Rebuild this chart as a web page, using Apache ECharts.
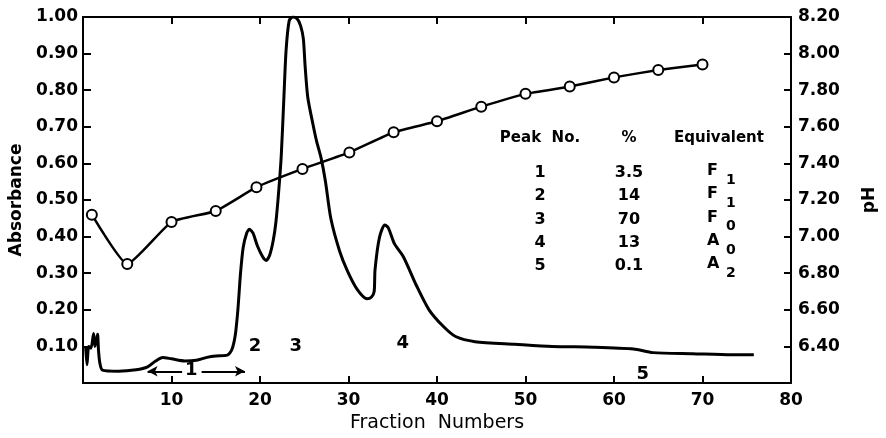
<!DOCTYPE html>
<html>
<head>
<meta charset="utf-8">
<script src="https://cdn.jsdelivr.net/npm/echarts@6/dist/echarts.min.js"></script>
<style>
  html, body { margin: 0; padding: 0; background: #fff; }
  #chart { width: 886px; height: 438px; }
</style>
</head>
<body>
<div id="chart"></div>
<script>
// Absorbance elution profile: [fraction number, absorbance]
const absorbanceProfile = [
  [0.3, 0.10], [0.45, 0.05], [0.65, 0.10], [0.9, 0.095], [1.2, 0.135], [1.35, 0.10],
  [1.55, 0.12], [1.65, 0.133], [1.75, 0.09], [1.9, 0.055], [2.2, 0.035], [4, 0.032],
  [6, 0.036], [7.3, 0.044], [8.2, 0.06], [9, 0.07], [10, 0.066], [11.5, 0.06],
  [12.8, 0.062], [14, 0.07], [15, 0.074], [16.3, 0.076], [16.8, 0.09], [17.2, 0.13],
  [17.5, 0.2], [17.8, 0.3], [18.1, 0.37], [18.5, 0.41], [18.8, 0.42], [19.2, 0.41],
  [19.7, 0.375], [20.3, 0.345], [20.7, 0.335], [21.1, 0.35], [21.5, 0.39], [21.8, 0.44],
  [22.1, 0.52], [22.4, 0.62], [22.7, 0.78], [22.95, 0.91], [23.3, 0.99], [23.7, 1.0],
  [24.2, 0.995], [24.6, 0.975], [24.9, 0.94], [25.1, 0.865], [25.4, 0.78], [26.0, 0.705],
  [26.4, 0.66], [26.9, 0.615], [27.4, 0.55], [28.0, 0.45], [29.0, 0.36], [29.9, 0.305],
  [31.0, 0.255], [32.1, 0.23], [32.6, 0.235], [32.9, 0.25], [33.0, 0.31], [33.5, 0.398],
  [34.1, 0.432], [34.5, 0.424], [35.2, 0.38], [36.2, 0.345], [37.7, 0.265], [39.1, 0.20],
  [40.7, 0.155], [42.1, 0.127], [44.3, 0.113], [48.8, 0.106], [53, 0.10], [57.7, 0.098],
  [62.2, 0.093], [64.4, 0.083], [68.9, 0.08], [73.3, 0.077], [75.8, 0.077]
];

// pH of collected fractions
const phFractions = [1.0, 5, 10, 15, 19.6, 24.8, 30.1, 35.1, 40, 45, 50, 55, 60, 65, 70];
const phValues    = [7.12, 6.85, 7.08, 7.14, 7.27, 7.37, 7.46, 7.57, 7.63, 7.71, 7.78, 7.82, 7.87, 7.91, 7.94];

// Peak numbers written under the curve: [fraction, absorbance, text]
const peakMarks = [[19.5, 0.10, '2'], [24.1, 0.10, '3'], [36.2, 0.106, '4'], [63.3, 0.021, '5'], [12.3, 0.034, '1']];

// Extent of peak 1 (double arrow)
const peak1Range = { from: 7.3, to: 18.3, y: 0.032, gapLeft: 11.2, gapRight: 13.4 };

// Summary table
const tableHeader = ['Peak  No.', '%', 'Equivalent'];
const tablePeak = ['1', '2', '3', '4', '5'];
const tablePercent = ['3.5', '14', '70', '13', '0.1'];
const tableEquivalent = [['F', '1'], ['F', '1'], ['F', '0'], ['A', '0'], ['A', '2']];

const FONT = 'DejaVu Sans';
const INK = '#000';

const chart = echarts.init(document.getElementById('chart'), null, { renderer: 'canvas' });

// Table drawn as text elements
const graphics = [];
const colX = [540, 629, 719];
const headerY = 138;
const rowY0 = 173, rowStep = 23.3;
const txt = (x, y, text, size, align, vAlign) => ({
  type: 'text', x, y, silent: true,
  style: { text, fontFamily: FONT, fontWeight: 'bold', fontSize: size, fill: INK,
           textAlign: align || 'center', textVerticalAlign: vAlign || 'middle' }
});
tableHeader.forEach((t, i) => graphics.push(txt(colX[i], headerY, t, 15)));
tablePeak.forEach((t, r) => {
  const y = rowY0 + r * rowStep;
  graphics.push(txt(colX[0], y, t, 16));
  graphics.push(txt(colX[1], y, tablePercent[r], 16));
  graphics.push(txt(colX[2] - 12, y - 2, tableEquivalent[r][0], 16, 'left'));
  graphics.push(txt(colX[2] + 7, y + 7, tableEquivalent[r][1], 14, 'left'));
});

const option = {
  animation: false,
  backgroundColor: '#fff',
  grid: { left: 82, right: 86, top: 17, bottom: 45, containLabel: false },
  graphic: graphics,
  xAxis: [
    {
      type: 'value', min: 0, max: 80, interval: 10, position: 'bottom',
      name: 'Fraction  Numbers', nameLocation: 'middle', nameGap: 31,
      nameTextStyle: { fontFamily: FONT, fontSize: 19, color: INK },
      axisLine: { show: true, onZero: false, lineStyle: { color: INK, width: 2 } },
      axisTick: { show: true, inside: true, length: 7, lineStyle: { color: INK, width: 2 } },
      axisLabel: { showMinLabel: false, margin: 9, fontFamily: FONT, fontWeight: 'bold', fontSize: 17, color: INK },
      splitLine: { show: false }
    },
    {
      type: 'value', min: 0, max: 80, interval: 10, position: 'top',
      axisLine: { show: true, onZero: false, lineStyle: { color: INK, width: 2 } },
      axisTick: { show: true, inside: true, length: 7, lineStyle: { color: INK, width: 2 } },
      axisLabel: { show: false },
      splitLine: { show: false }
    }
  ],
  yAxis: [
    {
      type: 'value', min: 0, max: 1, interval: 0.1, position: 'left',
      name: 'Absorbance', nameLocation: 'middle', nameGap: 58, nameRotate: 90,
      nameTextStyle: { fontFamily: FONT, fontWeight: 'bold', fontSize: 17, color: INK },
      axisLine: { show: true, onZero: false, lineStyle: { color: INK, width: 2 } },
      axisTick: { show: true, inside: true, length: 8, lineStyle: { color: INK, width: 2 } },
      axisLabel: {
        showMinLabel: false, margin: 5, fontFamily: FONT, fontWeight: 'bold', fontSize: 17, color: INK,
        formatter: v => v.toFixed(2)
      },
      splitLine: { show: false }
    },
    {
      type: 'value', min: 6.2, max: 8.2, interval: 0.2, position: 'right',
      name: 'pH', nameLocation: 'middle', nameGap: 70, nameRotate: 90,
      nameTextStyle: { fontFamily: FONT, fontWeight: 'bold', fontSize: 17, color: INK },
      axisLine: { show: true, onZero: false, lineStyle: { color: INK, width: 2 } },
      axisTick: { show: true, inside: true, length: 7, lineStyle: { color: INK, width: 2 } },
      axisLabel: {
        showMinLabel: false, margin: 7, fontFamily: FONT, fontWeight: 'bold', fontSize: 17, color: INK,
        formatter: v => v.toFixed(2)
      },
      splitLine: { show: false }
    }
  ],
  series: [
    {
      name: 'Absorbance', type: 'line', xAxisIndex: 0, yAxisIndex: 0,
      data: absorbanceProfile, showSymbol: false, smooth: 0.25,
      lineStyle: { color: INK, width: 3 }, z: 3
    },
    {
      name: 'pH', type: 'line', xAxisIndex: 0, yAxisIndex: 1,
      data: phFractions.map((f, i) => [f, phValues[i]]),
      symbol: 'circle', symbolSize: 10, showSymbol: true, smooth: 0.15,
      lineStyle: { color: INK, width: 2.5 },
      itemStyle: { color: '#fff', borderColor: INK, borderWidth: 2 }, z: 4
    },
    {
      name: 'Peak labels', type: 'scatter', xAxisIndex: 0, yAxisIndex: 0,
      data: peakMarks.map(p => ({ value: [p[0], p[1]], label: { formatter: p[2] } })),
      symbol: 'circle', symbolSize: 1, itemStyle: { opacity: 0 }, silent: true,
      label: { show: true, position: [0, 0], align: 'center', verticalAlign: 'middle',
               fontFamily: FONT, fontWeight: 'bold', fontSize: 18, color: INK, opacity: 1 },
      z: 5
    },
    {
      name: 'Peak 1 extent', type: 'line', xAxisIndex: 0, yAxisIndex: 0, data: [], silent: true,
      markLine: {
        silent: true, symbol: ['none', 'arrow'], symbolSize: [8, 10],
        label: { show: false },
        lineStyle: { color: INK, width: 2, type: 'solid' },
        data: [
          [{ coord: [peak1Range.gapLeft, peak1Range.y] }, { coord: [peak1Range.from, peak1Range.y] }],
          [{ coord: [peak1Range.gapRight, peak1Range.y] }, { coord: [peak1Range.to, peak1Range.y] }]
        ]
      }
    }
  ]
};

chart.setOption(option);
</script>
</body>
</html>
